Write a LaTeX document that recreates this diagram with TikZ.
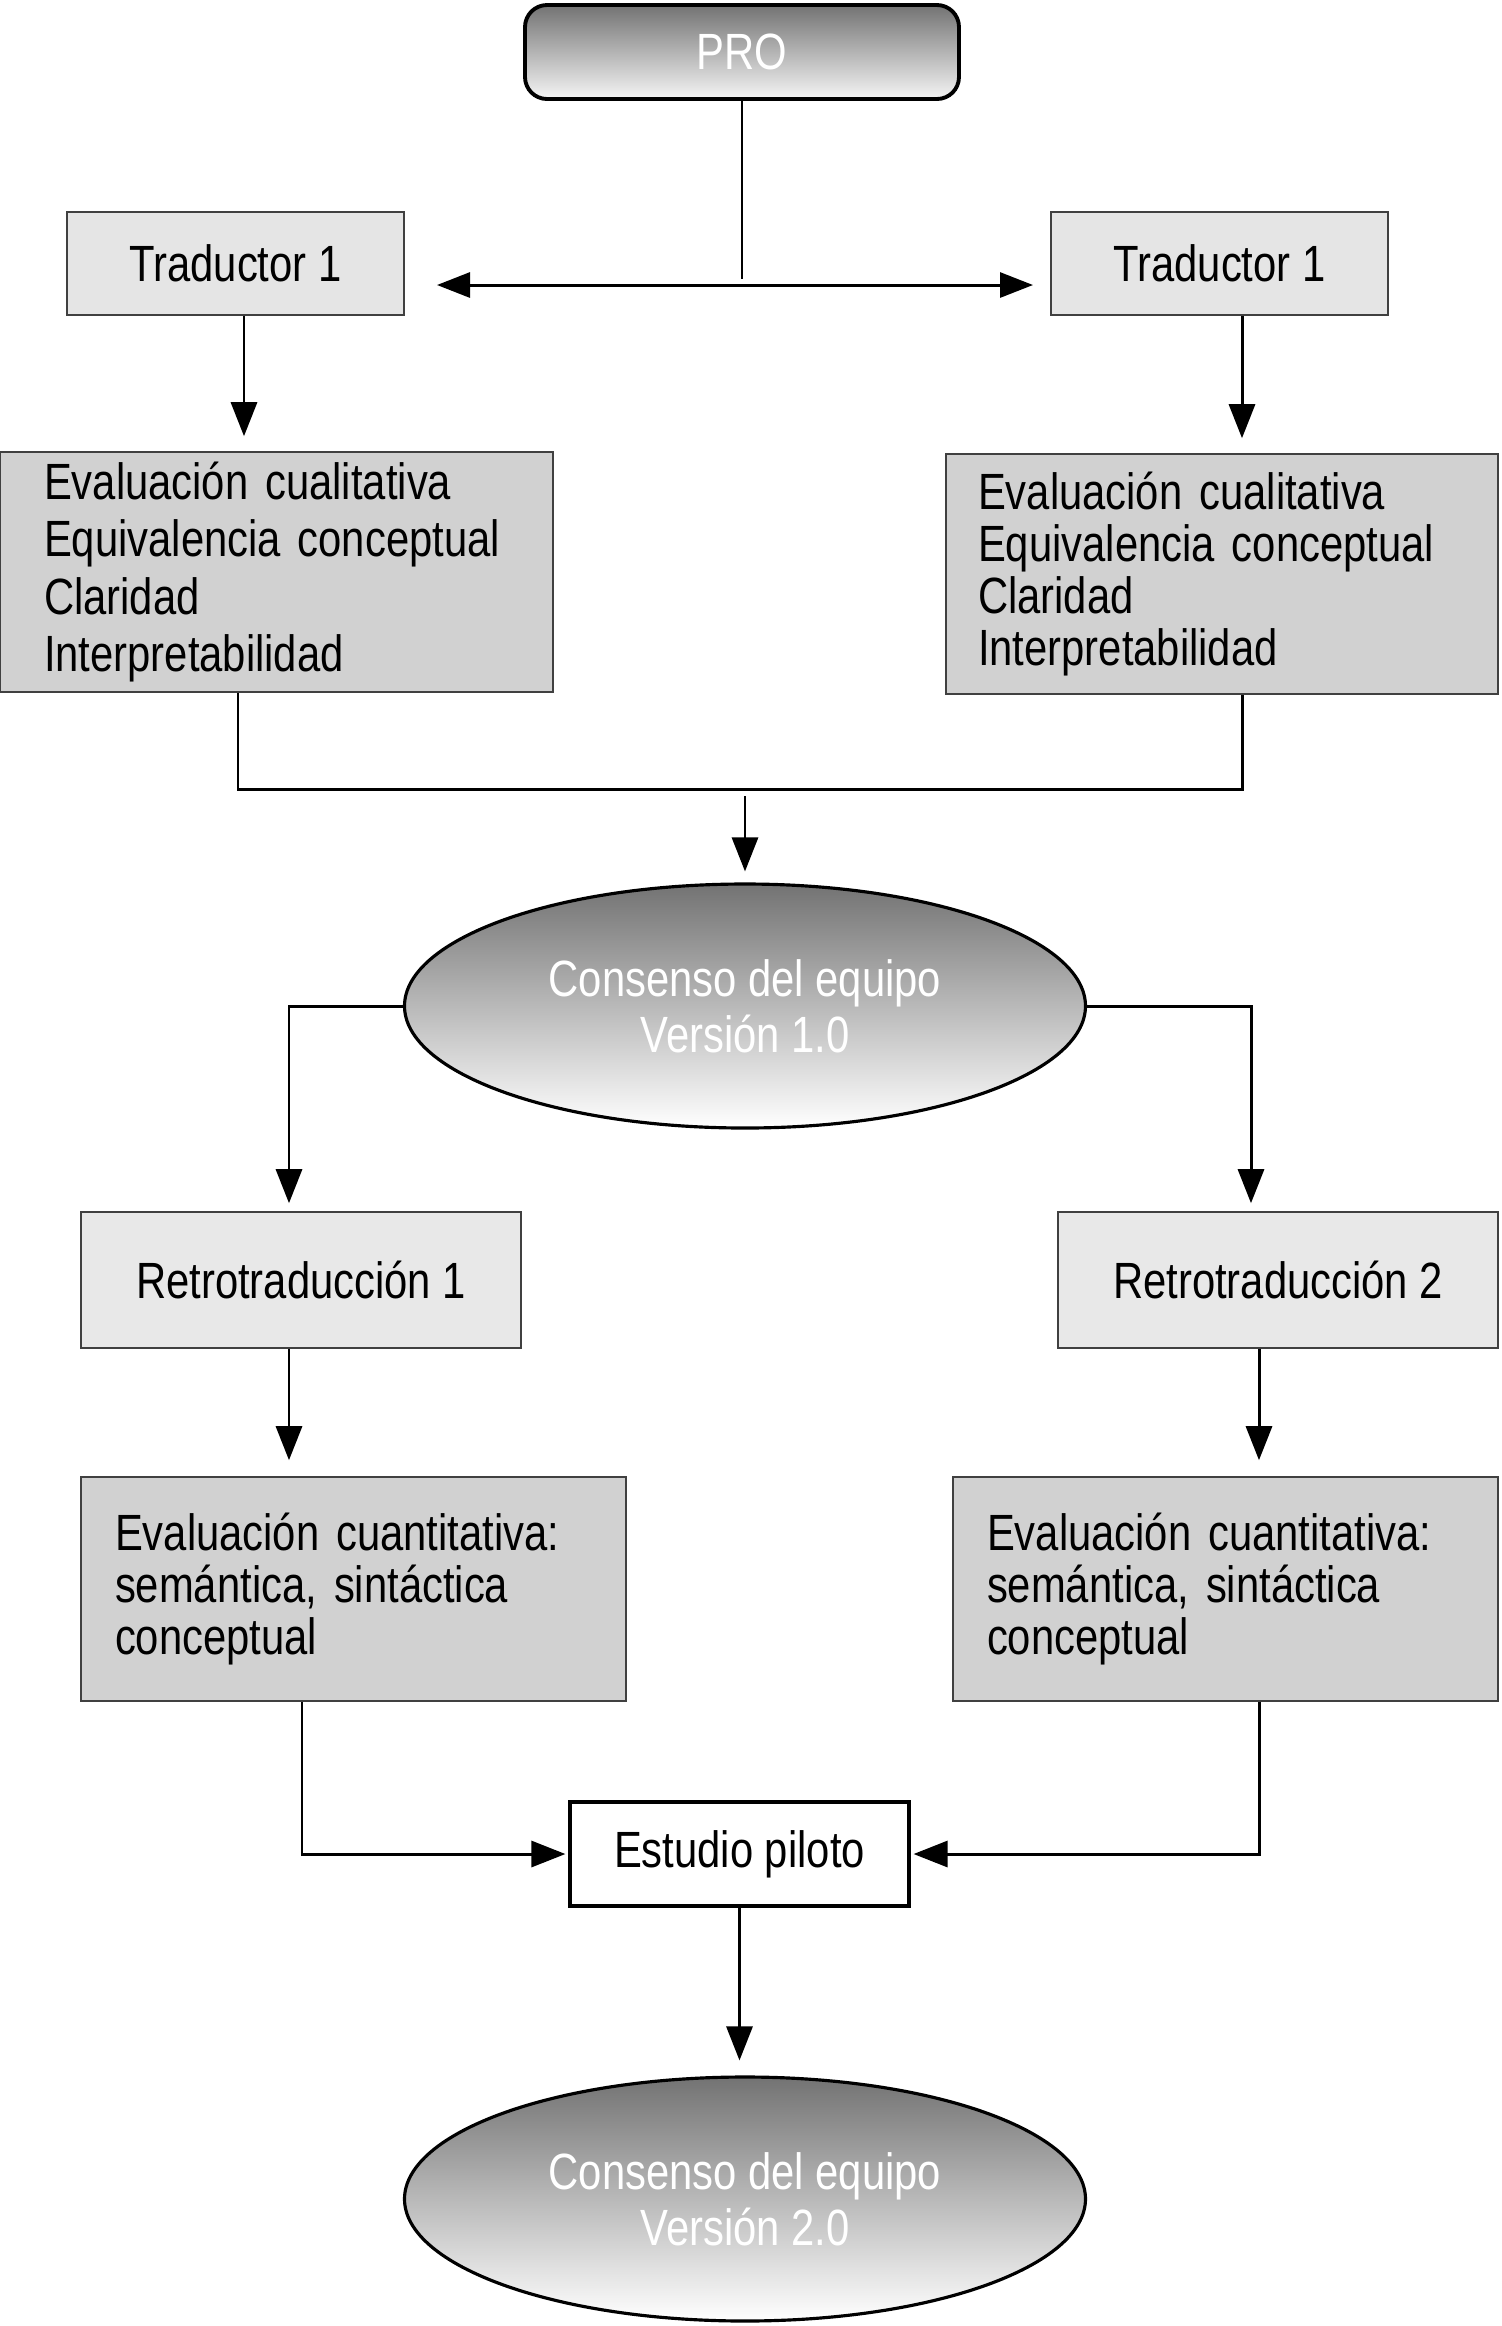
\documentclass[tikz,border=0pt]{standalone}
\usepackage{fontspec}
\setmainfont{Liberation Sans}[FakeStretch=0.82]
\usepackage{tikz}
\usetikzlibrary{positioning,arrows.meta,shapes.geometric}

\tikzset{
  caja/.style={rectangle, draw=black!75, line width=0.45pt, inner sep=0pt,
    font=\fontsize{14.5}{17}\selectfont},
  trad/.style={caja, fill=black!10, minimum width=33.7mm, minimum height=10.3mm},
  evalua/.style={caja, fill=black!18, minimum height=24mm, align=left},
  retro/.style={caja, fill=black!9, minimum width=44mm, minimum height=13.6mm},
  cuanti/.style={caja, fill=black!18, minimum height=22.4mm, align=left,
    inner xsep=3.4mm, text width=47.7mm, font=\fontsize{14.5}{14.8}\selectfont},
  consenso/.style={ellipse, draw=black, line width=0.9pt, inner sep=0pt,
    top color=black!55, bottom color=white, text=white, align=center,
    minimum width=68.1mm, minimum height=24.4mm, font=\fontsize{14.5}{16}\selectfont},
  linea/.style={line width=0.85pt},
  flecha/.style={linea, -{Triangle[length=3.4mm,width=2.6mm]}},
  doble/.style={linea, {Triangle[length=3.3mm,width=2.5mm]}-{Triangle[length=3.3mm,width=2.5mm]}},
}

\begin{document}
\begin{tikzpicture}[x=0.1mm,y=-0.1mm]
\useasboundingbox (0,0) rectangle (1502,2326);

% cajas
\node[rectangle, rounded corners=2.2mm, draw=black, line width=1.1pt,
  top color=black!55, bottom color=black!4, text=white,
  minimum width=43.4mm, minimum height=9.4mm,
  font=\fontsize{14.5}{17}\selectfont] (pro) at (742,52) {PRO};
\node[trad] (trad1) at (235.5,263.5) {Traductor 1};
\node[trad] (trad2) at (1219.5,263.5) {Traductor 1};
\node[evalua, inner xsep=4.4mm, text width=46.5mm,
  font=\fontsize{14.5}{16.3}\selectfont] (eval1) at (276.5,572)
  {Evaluación cualitativa\\Equivalencia conceptual\\Claridad\\Interpretabilidad};
\node[evalua, inner xsep=3.2mm, text width=48.8mm,
  font=\fontsize{14.5}{14.8}\selectfont] (eval2) at (1222,574)
  {Evaluación cualitativa\\Equivalencia conceptual\\Claridad\\Interpretabilidad};
\node[consenso] (cons1) at (745,1006) {Consenso del equipo\\Versión 1.0};
\node[retro] (retro1) at (301,1280) {Retrotraducción 1};
\node[retro] (retro2) at (1278,1280) {Retrotraducción 2};
\node[cuanti] (cuant1) at (353.5,1589)
  {Evaluación cuantitativa:\\semántica, sintáctica\\conceptual};
\node[cuanti] (cuant2) at (1225.5,1589)
  {Evaluación cuantitativa:\\semántica, sintáctica\\conceptual};
\node[caja, fill=white, draw=black, line width=0.9pt,
  minimum width=33.9mm, minimum height=10.4mm] (piloto) at (739.5,1854) {Estudio piloto};
\node[consenso] (cons2) at (745,2199) {Consenso del equipo\\Versión 2.0};

% puntos de union
\coordinate (bif) at (742,279);
\coordinate (flI) at (437,285);
\coordinate (flD) at (1033,285);
\coordinate (union) at (745,789);

% conectores
\draw[linea] (pro.south) -- (bif);
\draw[doble] (flI) -- (flD);
\draw[flecha, shorten >=1.5mm] ([xshift=0.85mm]trad1.south) -- ([xshift=0.85mm]trad1.south |- eval1.north);
\draw[flecha, shorten >=1.5mm] ([xshift=2.25mm]trad2.south) -- ([xshift=2.25mm]trad2.south |- eval2.north);
\draw[linea] ([xshift=-3.85mm]eval1.south) |- (union) -| ([xshift=2mm]eval2.south);
\draw[flecha, shorten <=0.7mm, shorten >=1.1mm] (union) -- (cons1.north);
\draw[flecha, shorten >=0.8mm] (cons1.west) -| ([xshift=-1.2mm]retro1.north);
\draw[flecha, shorten >=0.8mm] (cons1.east) -| ([xshift=-2.7mm]retro2.north);
\draw[flecha, shorten >=1.6mm] ([xshift=-1.2mm]retro1.south) -- ([xshift=-1.2mm]retro1.south |- cuant1.north);
\draw[flecha, shorten >=1.6mm] ([xshift=-1.9mm]retro2.south) -- ([xshift=-1.9mm]retro2.south |- cuant2.north);
\draw[flecha, shorten >=0.3mm] ([xshift=-5.15mm]cuant1.south) |- (piloto.west);
\draw[flecha, shorten >=0.3mm] ([xshift=3.35mm]cuant2.south) |- (piloto.east);
\draw[flecha, shorten >=1.5mm] (piloto.south) -- (piloto.south |- cons2.north);
\end{tikzpicture}
\end{document}
